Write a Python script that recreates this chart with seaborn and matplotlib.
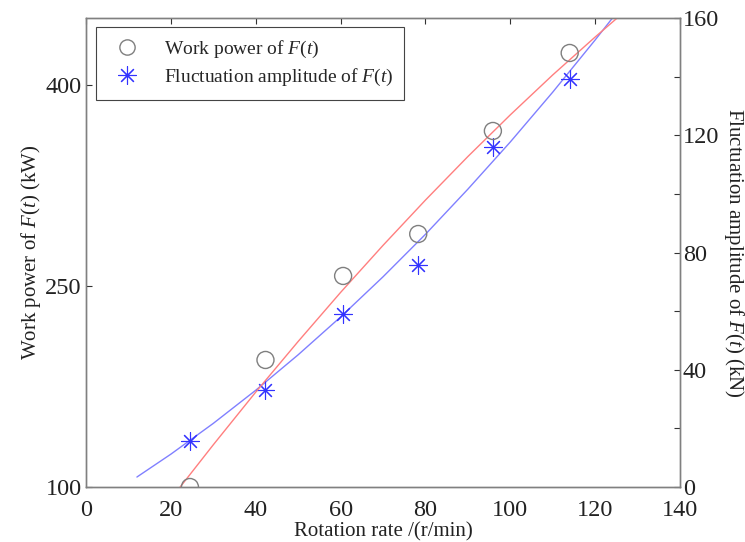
import numpy as np
import pandas as pd
import matplotlib
matplotlib.use("Agg")
import matplotlib.pyplot as plt
from matplotlib.lines import Line2D
from matplotlib.ticker import MultipleLocator
import seaborn as sns

# Measured points
rate = [24.5, 42.3, 60.6, 78.3, 95.9, 114.0]
power = [100.0, 194.8, 257.5, 288.8, 365.7, 423.9]
amplitude = [15.7, 33.1, 59.0, 75.7, 116.0, 139.2]

# Fitted curves
fit_p_x = [22, 30, 40, 50, 60, 70, 80, 90, 100, 110, 120, 126]
fit_p_y = [99.2, 131.5, 170.8, 208.6, 245.2, 280.3, 314.1, 346.6, 377.7, 407.5, 435.8, 452.2]
fit_a_x = [12, 20, 30, 40, 50, 60, 70, 80, 90, 100, 110, 120, 126]
fit_a_y = [3.4, 11.2, 21.7, 33.0, 45.1, 58.0, 71.7, 86.2, 101.6, 117.7, 134.7, 152.5, 163.5]

x_ticks = [0, 20, 40, 60, 80, 100, 120, 140]
left_ticks = [100, 250, 400]
right_ticks = [0, 40, 80, 120, 160]

sns.set_theme(style="white")
plt.rcParams['font.family'] = ['Liberation Serif', 'DejaVu Serif']
plt.rcParams['mathtext.fontset'] = 'custom'
plt.rcParams['mathtext.rm'] = 'Liberation Serif'
plt.rcParams['mathtext.it'] = 'Liberation Serif:italic'

fig = plt.figure(figsize=(7.45, 5.42), dpi=100)
ax = fig.add_axes([86/745, 55/542, (680-86)/745, (487-18)/542])
ax2 = ax.twinx()

df_pts = pd.DataFrame({"rate": rate, "power": power, "amp": amplitude})
df_fp = pd.DataFrame({"x": fit_p_x, "y": fit_p_y})
df_fa = pd.DataFrame({"x": fit_a_x, "y": fit_a_y})

sns.lineplot(data=df_fp, x="x", y="y", ax=ax, color="#ff7f7f", lw=1.0, sort=True)
sns.scatterplot(data=df_pts, x="rate", y="power", ax=ax, marker="o", s=150,
                facecolor="none", edgecolor="#7f7f7f", linewidth=1.0, zorder=5)
sns.lineplot(data=df_fa, x="x", y="y", ax=ax2, color="#8080ff", lw=1.0, sort=True)
ax2.plot(rate, amplitude, linestyle="none", marker=(4, 2, 0), markersize=13,
         markeredgecolor="#3333ff", markeredgewidth=0.8, zorder=5)
ax2.plot(rate, amplitude, linestyle="none", marker=(4, 2, 45), markersize=13,
         markeredgecolor="#3333ff", markeredgewidth=0.8, zorder=5)

ax.set_xlim(0, 140)
ax.set_ylim(100, 450)
ax2.set_ylim(0, 160)
ax.set_xticks(x_ticks)
ax.set_yticks(left_ticks)
ax2.set_yticks(right_ticks)
ax2.yaxis.set_minor_locator(MultipleLocator(20))

for a in (ax, ax2):
    for s in a.spines.values():
        s.set_color("#808080")
        s.set_linewidth(1.0)
    a.tick_params(direction="in", length=4, width=0.8, color="#333333",
                  labelsize=17.5, labelcolor="#222222", pad=2)
ax.tick_params(axis="x", top=True, pad=9)
ax.tick_params(axis="y", left=True, right=False, pad=3)
ax2.tick_params(axis="y", which="minor", direction="in", length=4, width=0.8, color="#333333", right=True)
ax2.tick_params(axis="y", right=True, pad=2)

ax.set_xlabel("Rotation rate /(r/min)", fontsize=15, labelpad=1, color="#222222")
ax.set_ylabel("Work power of $F(t)$ (kW)", fontsize=15, labelpad=2, color="#222222")
ax2.set_ylabel("Fluctuation amplitude of $F(t)$ (kN)", fontsize=15, rotation=270,
               labelpad=19, color="#222222")

h1 = Line2D([], [], linestyle="none", marker="o", markersize=11, markerfacecolor="none",
            markeredgecolor="#7f7f7f", markeredgewidth=1.0)
h2 = Line2D([], [], linestyle="none", marker=(8, 2, 0), markersize=13,
            markeredgecolor="#3333ff", markeredgewidth=0.8)
leg = ax.legend([h1, h2], ["Work power of $F(t)$", "Fluctuation amplitude of $F(t)$"],
                loc="upper left", bbox_to_anchor=(0.016, 0.98), fontsize=14,
                frameon=True, fancybox=False, edgecolor="#444444", framealpha=1,
                handletextpad=0.9, borderpad=0.6, labelspacing=0.35, handlelength=2.0,
                borderaxespad=0.0)
leg.get_frame().set_linewidth(0.8)
ax.set_zorder(ax2.get_zorder() + 1)
ax.patch.set_visible(False)

fig.savefig("out.png", dpi=100)
